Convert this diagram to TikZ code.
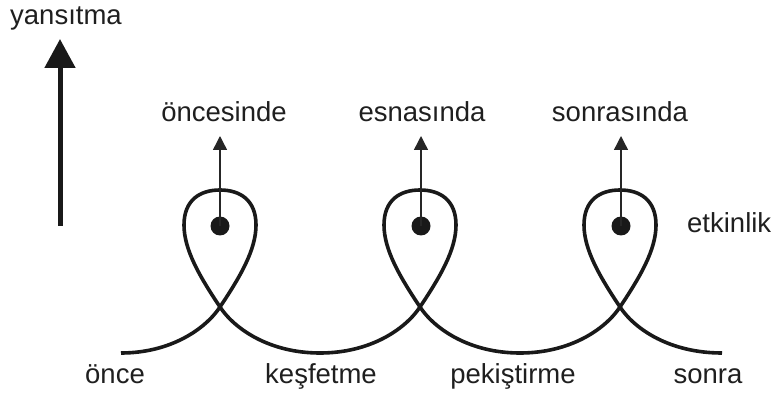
\documentclass[tikz,border=0pt]{standalone}
\usepackage{fontspec}
\setmainfont{Liberation Sans}
\usetikzlibrary{arrows.meta}
\begin{document}
\begin{tikzpicture}[x=1pt,y=-1pt,
  lbl/.style={inner sep=0pt,font=\fontsize{27.5}{33}\selectfont,text=black!88},
  dotnode/.style={circle,fill=black!90,minimum size=19pt,inner sep=0pt},
  loopline/.style={line width=3.6pt,black!90},
  thinarrow/.style={line width=1.4pt,black!85,-{Triangle[length=14pt,width=14pt]}},
  bigarrow/.style={line width=5pt,black!90,-{Triangle[length=29pt,width=30pt]}}]
\useasboundingbox (0,0) rectangle (771,398);
% spiral path
\draw[loopline] (121,353)
  .. controls (170,353) and (205,329.5) .. (220,307)
  .. controls (240,277) and (256,250) .. (256,225)
  .. controls (256,200) and (240,190) .. (220,190)
  .. controls (200,190) and (184,200) .. (184,225)
  .. controls (184,250) and (200,277) .. (220,307)
  .. controls (235,329.5) and (270,353) .. (320,353)
  .. controls (370,353) and (405,329.5) .. (420,307)
  .. controls (440,277) and (456,250) .. (456,225)
  .. controls (456,200) and (440,190) .. (420,190)
  .. controls (400,190) and (384,200) .. (384,225)
  .. controls (384,250) and (400,277) .. (420,307)
  .. controls (435,329.5) and (470,353) .. (520,353)
  .. controls (570,353) and (605,329.5) .. (620,307)
  .. controls (640,277) and (656,250) .. (656,225)
  .. controls (656,200) and (640,190) .. (620,190)
  .. controls (600,190) and (584,200) .. (584,225)
  .. controls (584,250) and (600,277) .. (620,307)
  .. controls (635,329.5) and (670,353) .. (722,353);
% dots
\node[dotnode] (d1) at (220,226) {};
\node[dotnode] (d2) at (421,226) {};
\node[dotnode] (d3) at (621,226) {};
\coordinate (t1) at (220,136);
\coordinate (t2) at (421,136);
\coordinate (t3) at (621,136);
\draw[thinarrow] (d1.center) -- (t1);
\draw[thinarrow] (d2.center) -- (t2);
\draw[thinarrow] (d3.center) -- (t3);
% big arrow
\coordinate (b0) at (60,226);
\coordinate (b1) at (60,39);
\draw[bigarrow] (b0) -- (b1);
% labels
\node[lbl,anchor=base west] (ya) at (10,25) {yansıtma};
\node[lbl,anchor=base] (l1) at (224,122) {öncesinde};
\node[lbl,anchor=base] (l2) at (422,122) {esnasında};
\node[lbl,anchor=base] (l3) at (620,122) {sonrasında};
\node[lbl,anchor=base west] (et) at (687,233) {etkinlik};
\node[lbl,anchor=base] (b1l) at (115,383) {önce};
\node[lbl,anchor=base] (b2l) at (321,383) {keşfetme};
\node[lbl,anchor=base] (b3l) at (513,383) {pekiştirme};
\node[lbl,anchor=base] (b4l) at (708,383) {sonra};
\end{tikzpicture}
\end{document}
